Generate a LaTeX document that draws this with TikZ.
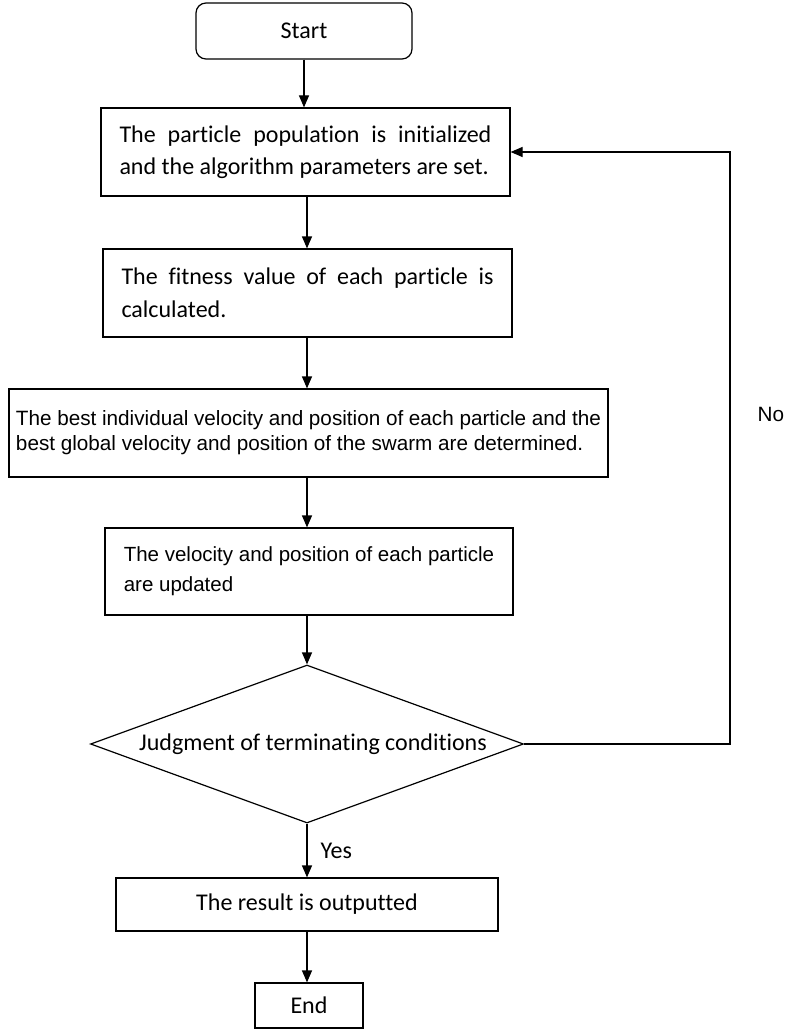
\documentclass[tikz,border=0pt]{standalone}
\usepackage{fontspec}
\usetikzlibrary{arrows.meta,shapes.geometric}
\newfontfamily\fcarlito[Ligatures=NoCommon]{Carlito}
\newfontfamily\farial{Liberation Sans}
\newcommand{\jline}[2]{{\spaceskip=0pt\xspaceskip=0pt\makebox[#1][s]{#2}}}
\newcommand{\nline}[1]{{\spaceskip=0pt\xspaceskip=0pt\mbox{#1}}}
\begin{document}
\begin{tikzpicture}[x=1pt,y=-1pt,
  line width=1.2pt,
  box/.style={draw, rectangle, inner ysep=0pt, minimum height=88pt},
  calfont/.style={font=\fcarlito\fontsize{24}{32.5}\selectfont},
  arifont/.style={font=\farial\fontsize{20.7}{25}\selectfont},
  arrow/.style={-{Triangle[length=12pt,width=10pt]}}
]
\useasboundingbox (0,0) rectangle (784,1030);

\node[draw, rounded corners=10pt, minimum width=216pt, minimum height=56pt, inner sep=0pt, calfont] (start) at (304,31) {Start};

\node[box, calfont, text width=372pt, inner xsep=18.5pt, align=left] (b1) at (305.5,152)
  {\jline{372pt}{The particle population is initialized}\\\nline{and the algorithm parameters are set.}};

\node[box, calfont, text width=372pt, inner xsep=18.5pt, align=left] (b2) at (307.5,293)
  {\jline{372pt}{The fitness value of each particle is}\\calculated.};

\node[box, arifont, text width=585pt, inner xsep=7pt, align=left] (b3) at (308.5,433)
  {\jline{585pt}{The best individual velocity and position of each particle and the}\\\nline{best global velocity and position of the swarm are determined.}};

\node[box, font=\farial\fontsize{20.5}{30}\selectfont, minimum height=87pt, minimum width=408pt, inner xsep=0pt, align=left] (b4) at (309,571.5)
  {\mbox{The velocity and position of each particle}\\\mbox{are updated}};

\node[draw, diamond, aspect=2.74, minimum width=433pt, minimum height=158pt, inner sep=0pt, calfont] (dia) at (307,744)
  {\hspace*{12pt}Judgment of terminating conditions};

\node[draw, rectangle, minimum width=382pt, minimum height=53pt, inner sep=0pt, calfont] (res) at (307,904.5)
  {The result is outputted};

\node[draw, rectangle, minimum width=108pt, minimum height=45pt, inner sep=0pt, calfont] (end) at (309,1005.5)
  {End};

\coordinate (turn) at (730,744);

\draw[arrow] (start.south) -- (start.south |- b1.north);
\draw[arrow] (b1.south -| dia.north) -- (b2.north -| dia.north);
\draw[arrow] (b2.south -| dia.north) -- (b3.north -| dia.north);
\draw[arrow] (b3.south -| dia.north) -- (b4.north -| dia.north);
\draw[arrow] (b4.south -| dia.north) -- (dia.north);
\draw[arrow] (dia.south) -- node[pos=0.5, right=13pt, calfont, inner sep=0pt] (yes) {Yes} (dia.south |- res.north);
\draw[arrow] (res.south) -- (res.south |- end.north);
\draw[arrow] (dia.east) -- (turn) |- (b1.east);

\node[arifont, anchor=west, inner sep=0pt] (no) at (757,414) {No};
\end{tikzpicture}
\end{document}
